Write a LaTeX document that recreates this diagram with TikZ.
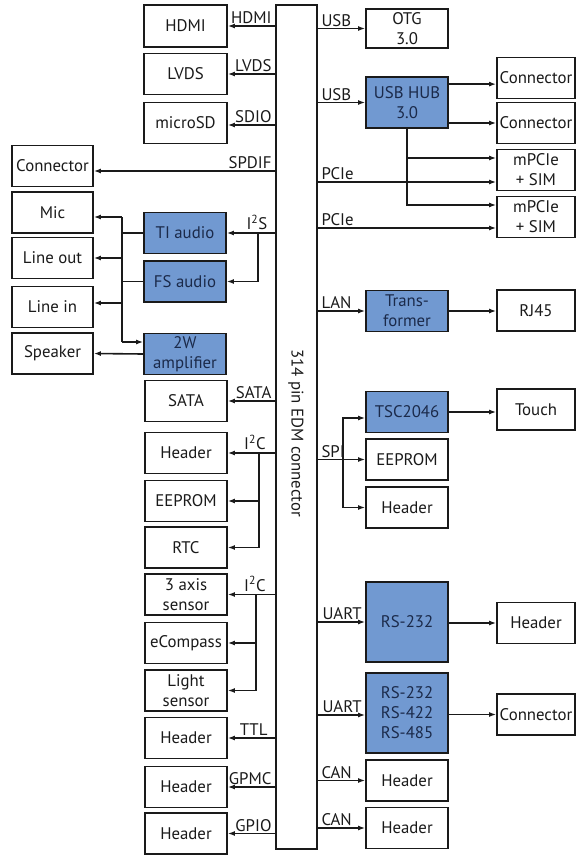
\documentclass[tikz,border=0pt]{standalone}
\usepackage{fontspec}
\setmainfont{PT Sans}
\usetikzlibrary{arrows.meta,calc}
\definecolor{bluefill}{HTML}{7199D1}
\definecolor{inkc}{HTML}{1A1A1A}
\definecolor{navy}{HTML}{1B2A4A}
\begin{document}
\begin{tikzpicture}[x=1pt,y=-1pt,
  font=\fontsize{16.8}{20}\selectfont,
  box/.style={draw=inkc, line width=1.8pt, fill=white, align=center, inner sep=0pt, text=inkc, minimum height=41pt},
  bbox/.style={box, fill=bluefill, text=navy},
  lw/.style={minimum width=83pt},
  flw/.style={minimum width=81pt},
  rw/.style={minimum width=82pt},
  rrw/.style={minimum width=78pt},
  arr/.style={line width=1.6pt, draw=inkc, -{Latex[length=7pt,width=5pt]}},
  ln/.style={line width=1.6pt, draw=inkc},
  lbl/.style={inner sep=1pt, text=inkc}]
\useasboundingbox (0,0) rectangle (576,855);

% central connector
\node[draw=inkc, line width=2.6pt, minimum width=41pt, minimum height=844pt, inner sep=0pt] (bus) at (296.5,427) {};
\node[rotate=-90, text=inkc, inner sep=0pt] (buslabel) at (296,433) {314 pin EDM connector};

% left column
\node[box, lw, minimum height=42pt] (hdmi) at (185.5,26) {HDMI};
\node[box, lw] (lvds) at (185.5,74) {LVDS};
\node[box, lw] (msd) at (185.5,123) {microSD};
\node[box, flw] (spd) at (52.5,166) {Connector};
\node[box, flw] (mic) at (52.5,212.5) {Mic};
\node[box, flw] (lo) at (52.5,258) {Line out};
\node[box, flw] (li) at (52.5,307) {Line in};
\node[box, flw] (spk) at (52.5,353.5) {Speaker};
\node[bbox, rw] (ti) at (185,233) {TI audio};
\node[bbox, rw] (fs) at (185,281.5) {FS audio};
\node[bbox, rw] (amp) at (185,354) {2W\\amplifier};
\node[box, rw] (sata) at (186,401) {SATA};
\node[box, rw] (hd1) at (186,453) {Header};
\node[box, rw] (ee1) at (186,501) {EEPROM};
\node[box, rw] (rtc) at (186,547.5) {RTC};
\node[box, rw] (axis) at (186,594.5) {3 axis\\sensor};
\node[box, rw] (ecmp) at (186,643) {eCompass};
\node[box, rw] (light) at (186,690.5) {Light\\sensor};
\node[box, rw] (httl) at (186,738) {Header};
\node[box, rw] (hgpmc) at (186,787) {Header};
\node[box, rw] (hgpio) at (186,833.5) {Header};

% right column 1
\node[box, rw, minimum height=39pt] (otg) at (407,28.5) {OTG\\3.0};
\node[bbox, rw, minimum height=51pt] (hub) at (407,102.5) {USB HUB\\3.0};
\node[bbox, rw] (tr) at (407,311) {Trans-\\former};
\node[bbox, rw] (tsc) at (407,412) {TSC2046};
\node[box, rw] (ee2) at (407,459.5) {EEPROM};
\node[box, rw] (hd2) at (407,507.5) {Header};
\node[bbox, rw, minimum height=80pt] (rsa) at (407,622) {RS-232};
\node[bbox, rw, minimum height=80pt] (rsb) at (407,713) {RS-232\\RS-422\\RS-485};
\node[box, rw] (can1) at (407,780.5) {Header};
\node[box, rw] (can2) at (407,828) {Header};

% right column 2
\node[box, rrw] (c1) at (536,78) {Connector};
\node[box, rrw] (c2) at (536,123) {Connector};
\node[box, rrw] (mp1) at (536,170) {mPCIe\\+ SIM};
\node[box, rrw] (mp2) at (536,217) {mPCIe\\+ SIM};
\node[box, rrw] (rj) at (536,310.5) {RJ45};
\node[box, rrw] (touch) at (536,409.5) {Touch};
\node[box, rrw] (hd3) at (536,623) {Header};
\node[box, rrw] (c3) at (536,714.5) {Connector};

% ---- left connectors
\draw[arr] (bus.west |- hdmi.east) -- (hdmi.east);
\node[lbl, anchor=south east] (lhdmi) at ($(bus.west |- hdmi.east)+(-2,-1)$) {HDMI};
\draw[arr] (bus.west |- lvds.east) -- (lvds.east);
\node[lbl, anchor=south east] (llvds) at ($(bus.west |- lvds.east)+(-2,-1)$) {LVDS};
\coordinate (sdio) at ($(msd.east)+(0,2)$);
\draw[arr] (bus.west |- sdio) -- (sdio);
\node[lbl, anchor=south east] (lsdio) at ($(bus.west |- sdio)+(-2,-1)$) {SDIO};
\coordinate (spdj) at ($(spd.east)+(0,5)$);
\draw[arr] (bus.west |- spdj) -- (spdj);
\node[lbl, anchor=south east] (lspd) at ($(bus.west |- spdj)+(-2,-1)$) {SPDIF};

% I2S
\coordinate (i2sj) at ($(ti.east)+(31,0)$);
\draw[arr] (bus.west |- ti.east) -- (ti.east);
\draw[arr] (i2sj) |- (fs.east);
\node[lbl, anchor=south] (li2s) at ($(i2sj)+(-1,-2)$) {I\textsuperscript{2}S};

% audio fan-out
\coordinate (atop) at (122,217);
\coordinate (abot) at (122,342);
\coordinate (lij) at (122,303);
\draw[ln] (atop) -- (abot);
\draw[ln] (ti.west) -- (ti.west -| atop);
\draw[ln] (fs.west) -- (fs.west -| atop);
\draw[arr] (atop) -- (atop -| mic.east);
\draw[arr] (atop |- lo.east) -- (lo.east);
\draw[arr] (lij) -- (lij -| li.east);
\draw[arr] (abot) -- (abot -| amp.west);
\draw[arr] (amp.west) -- (spk.east);

% SATA
\draw[arr] (bus.west |- sata.east) -- (sata.east);
\node[lbl, anchor=south east] (lsata) at ($(bus.west |- sata.east)+(-2,-1)$) {SATA};

% I2C group 1
\coordinate (j1) at ($(hd1.east)+(31,0)$);
\draw[arr] (bus.west |- hd1.east) -- (hd1.east);
\draw[arr] (j1) |- (ee1.east);
\draw[arr] (j1) |- (rtc.east);
\node[lbl, anchor=south] (li2c1) at ($(j1)+(-4,-2)$) {I\textsuperscript{2}C};

% I2C group 2
\coordinate (j2) at ($(axis.east)+(28,0)$);
\draw[arr] (bus.west |- axis.east) -- (axis.east);
\draw[arr] (j2) |- (ecmp.east);
\draw[arr] (j2) |- (light.east);
\node[lbl, anchor=south] (li2c2) at ($(j2)+(-1,-2)$) {I\textsuperscript{2}C};

% TTL / GPMC / GPIO
\draw[arr] (bus.west |- httl.east) -- (httl.east);
\node[lbl, anchor=south east] (lttl) at ($(bus.west |- httl.east)+(-6,-1)$) {TTL};
\draw[arr] (bus.west |- hgpmc.east) -- (hgpmc.east);
\node[lbl, anchor=south east] (lgpmc) at ($(bus.west |- hgpmc.east)+(-2,-1)$) {GPMC};
\draw[arr] (bus.west |- hgpio.east) -- (hgpio.east);
\node[lbl, anchor=south east] (lgpio) at ($(bus.west |- hgpio.east)+(-2,-1)$) {GPIO};

% ---- right connectors
\draw[arr] (bus.east |- otg.west) -- (otg.west);
\node[lbl, anchor=south west] (lusb1) at ($(bus.east |- otg.west)+(2,-1)$) {USB};
\draw[arr] (bus.east |- hub.west) -- (hub.west);
\node[lbl, anchor=south west] (lusb2) at ($(bus.east |- hub.west)+(2,-1)$) {USB};

\coordinate (h1) at ($(hub.north east)+(0,8)$);
\draw[arr] (h1) -- (h1 -| c1.west);
\draw[arr] (hub.east |- c2.west) -- (c2.west);
\coordinate (m1a) at ($(mp1.west)+(0,-12)$);
\coordinate (m2a) at ($(mp2.west)+(0,-12)$);
\draw[arr] (hub.south) |- (m1a);
\draw[arr] (hub.south) |- (m2a);

\coordinate (m1b) at ($(mp1.west)+(0,12)$);
\coordinate (m2b) at ($(mp2.west)+(0,11)$);
\draw[arr] (bus.east |- m1b) -- (m1b);
\node[lbl, anchor=south west] (lpci1) at ($(bus.east |- m1b)+(2,-1)$) {PCIe};
\draw[arr] (bus.east |- m2b) -- (m2b);
\node[lbl, anchor=south west] (lpci2) at ($(bus.east |- m2b)+(2,-1)$) {PCIe};

\draw[arr] (bus.east |- tr.west) -- (tr.west);
\node[lbl, anchor=south west] (llan) at ($(bus.east |- tr.west)+(2,-1)$) {LAN};
\draw[arr] (tr.east) -- (tr.east -| rj.west);

% SPI
\coordinate (sj) at ($(ee2.west)+(-22,0)$);
\coordinate (tscin) at ($(tsc.west)+(0,6)$);
\draw[arr] (bus.east |- ee2.west) -- (ee2.west);
\draw[arr] (sj) |- (tscin);
\draw[arr] (sj) |- (hd2.west);
\node[lbl, anchor=south west] (lspi) at ($(bus.east |- ee2.west)+(2,-1)$) {SPI};
\draw[arr] (tsc.east) -- (tsc.east -| touch.west);

% UART
\draw[arr] (bus.east |- rsa.west) -- (rsa.west);
\node[lbl, anchor=south west] (luart1) at ($(bus.east |- rsa.west)+(3,-1)$) {UART};
\draw[arr] (rsa.east |- hd3.west) -- (hd3.west);
\coordinate (u2) at ($(rsb.west)+(0,2)$);
\draw[arr] (bus.east |- u2) -- (u2);
\node[lbl, anchor=south west] (luart2) at ($(bus.east |- u2)+(3,-1)$) {UART};
\draw[arr] (rsb.east |- c3.west) -- (c3.west);

% CAN
\draw[arr] (bus.east |- can1.west) -- (can1.west);
\node[lbl, anchor=south west] (lcan1) at ($(bus.east |- can1.west)+(2,-1)$) {CAN};
\draw[arr] (bus.east |- can2.west) -- (can2.west);
\node[lbl, anchor=south west] (lcan2) at ($(bus.east |- can2.west)+(2,-1)$) {CAN};
\end{tikzpicture}
\end{document}
